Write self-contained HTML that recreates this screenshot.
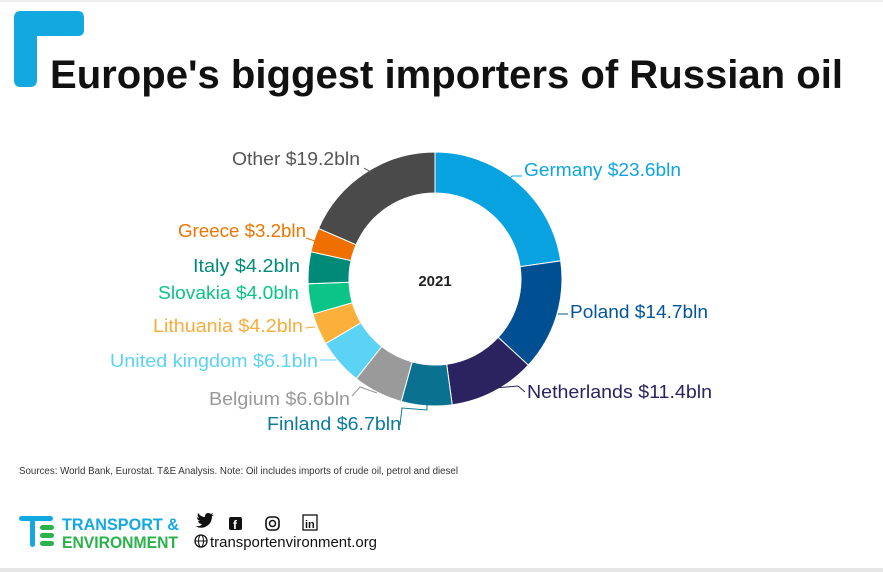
<!DOCTYPE html>
<html><head><meta charset="utf-8"><style>
body{margin:0;background:#fff;}
svg{display:block;font-family:"Liberation Sans",sans-serif;}
</style></head><body>
<svg id="s" width="883" height="572" viewBox="0 0 883 572">
<rect width="883" height="572" fill="#fff"/>
<rect x="0" y="0" width="883" height="2" fill="#eee"/>
<rect x="0" y="568" width="883" height="4" fill="#e6e6e6"/>
<path d="M14 18 Q14 11 21 11 L78 11 Q84 11 84 18 L84 30 Q84 36 78 36 L37 36 L37 80 Q37 87 30 87 L21 87 Q14 87 14 80 Z" fill="#14a8e0"/>
<text x="50" y="88" font-size="40" font-weight="bold" fill="#111" textLength="793" lengthAdjust="spacingAndGlyphs">Europe's biggest importers of Russian oil</text>
<g id="ring"></g>
<text x="435" y="286" font-size="15" font-weight="bold" text-anchor="middle" fill="#222">2021</text>
<g font-size="18" fill="none" stroke-width="1">
<text x="524" y="176" fill="#0ea5e0" stroke="none" textLength="157" lengthAdjust="spacingAndGlyphs">Germany $23.6bln</text>
<polyline points="500,188 512,176 522,176" stroke="#0ea5e0"/>
<text x="570" y="318" fill="#00559a" stroke="none" textLength="138" lengthAdjust="spacingAndGlyphs">Poland $14.7bln</text>
<polyline points="558,314 568,314" stroke="#00559a"/>
<text x="527" y="398" fill="#2a2360" stroke="none" textLength="185" lengthAdjust="spacingAndGlyphs">Netherlands $11.4bln</text>
<polyline points="495,388 518,386 525,392" stroke="#2a2360"/>
<text x="267" y="430" fill="#0a7a99" stroke="none" textLength="134" lengthAdjust="spacingAndGlyphs">Finland $6.7bln</text>
<polyline points="427,405 427,410 402,408 400,425" stroke="#0a7a99"/>
<text x="209" y="405" fill="#999" stroke="none" textLength="141" lengthAdjust="spacingAndGlyphs">Belgium $6.6bln</text>
<polyline points="377,393 360,387 352,396" stroke="#999"/>
<text x="110" y="367" fill="#5ad3f5" stroke="none" textLength="208" lengthAdjust="spacingAndGlyphs">United kingdom $6.1bln</text>
<polyline points="336,360 320,360" stroke="#5ad3f5"/>
<text x="153" y="332" fill="#f6ad3b" stroke="none" textLength="150" lengthAdjust="spacingAndGlyphs">Lithuania $4.2bln</text>
<polyline points="315,327 305,328" stroke="#f6ad3b"/>
<text x="158" y="299" fill="#0bc487" stroke="none" textLength="141" lengthAdjust="spacingAndGlyphs">Slovakia $4.0bln</text>
<text x="193" y="272" fill="#008b78" stroke="none" textLength="107" lengthAdjust="spacingAndGlyphs">Italy $4.2bln</text>
<text x="178" y="237" fill="#ef7400" stroke="none" textLength="128" lengthAdjust="spacingAndGlyphs">Greece $3.2bln</text>
<polyline points="315,241 306,238" stroke="#ef7400"/>
<text x="232" y="165" fill="#555" stroke="none" textLength="128" lengthAdjust="spacingAndGlyphs">Other $19.2bln</text>
<polyline points="364,168 374,174" stroke="#555"/>
</g>
<text x="19" y="474" font-size="10" fill="#333" textLength="439" lengthAdjust="spacingAndGlyphs">Sources: World Bank, Eurostat. T&amp;E Analysis.  Note:  Oil includes imports of crude oil, petrol and diesel</text>
<g>
<rect x="19" y="516" width="34" height="5" rx="2.5" fill="#14a8e0"/>
<rect x="30" y="516" width="5" height="31" rx="2.5" fill="#14a8e0"/>
<rect x="40" y="525" width="14" height="5" rx="2.5" fill="#2bb24c"/>
<rect x="40" y="533" width="14" height="5" rx="2.5" fill="#2bb24c"/>
<rect x="40" y="541" width="14" height="5" rx="2.5" fill="#2bb24c"/>
<text x="62" y="530" font-size="17" font-weight="bold" fill="#14a8e0" textLength="117" lengthAdjust="spacingAndGlyphs">TRANSPORT &amp;</text>
<text x="62" y="548" font-size="17" font-weight="bold" fill="#2bb24c" textLength="116" lengthAdjust="spacingAndGlyphs">ENVIRONMENT</text>
</g>
<g fill="#111">
<path d="M195 526 Q200 527 202 524 Q199 524 198 521 Q199 521 200 521 Q197 520 197 517 Q198 518 199 518 Q197 515 198 513 Q201 517 205 517 Q205 513 208 513 Q210 513 211 514 L213 513 L212 515 L214 515 L212 516 Q212 524 205 527 Q200 529 195 526Z"/>
<rect x="229" y="517" width="13" height="13" rx="2"/>
<text x="233" y="529" font-size="12" font-weight="bold" fill="#fff">f</text>
<rect x="266" y="517" width="13" height="13" rx="4" fill="none" stroke="#111" stroke-width="1.6"/>
<circle cx="272.5" cy="523.5" r="3" fill="none" stroke="#111" stroke-width="1.5"/>
<rect x="303" y="515" width="14" height="15" fill="none" stroke="#111" stroke-width="1.3"/>
<text x="305" y="528" font-size="11" font-weight="bold">in</text>
<circle cx="201" cy="541" r="6" fill="none" stroke="#111" stroke-width="1.3"/>
<ellipse cx="201" cy="541" rx="2.5" ry="6" fill="none" stroke="#111" stroke-width="1"/>
<line x1="195" y1="541" x2="207" y2="541" stroke="#111"/>
<text x="210" y="547" font-size="15" textLength="167" lengthAdjust="spacingAndGlyphs">transportenvironment.org</text>
</g>
</svg>
<script>
var d=[[23.6,"#08a2e0"],[14.7,"#004f93"],[11.4,"#2a2360"],[6.7,"#0a7191"],[6.6,"#9a9a9a"],[6.1,"#5ad3f5"],[4.2,"#fbb03b"],[4.0,"#0bc487"],[4.2,"#008b78"],[3.2,"#ef7000"],[19.2,"#4a4a4a"]];
var t=0,s=d.reduce(function(a,b){return a+b[0]},0),cx=435,cy=279,R=127,r=86,g=document.getElementById("ring"),h="";
function p(a,rr){return [cx+rr*Math.sin(a),cy-rr*Math.cos(a)];}
d.forEach(function(e){var a0=t/s*2*Math.PI;t+=e[0];var a1=t/s*2*Math.PI,l=(a1-a0)>Math.PI?1:0;
var A=p(a0,R),B=p(a1,R),C=p(a1,r),D=p(a0,r);
h+='<path d="M'+A+' A'+R+' '+R+' 0 '+l+' 1 '+B+' L'+C+' A'+r+' '+r+' 0 '+l+' 0 '+D+'Z" fill="'+e[1]+'" stroke="#fff" stroke-width="1"/>';});
g.innerHTML=h;
</script>
</body></html>
